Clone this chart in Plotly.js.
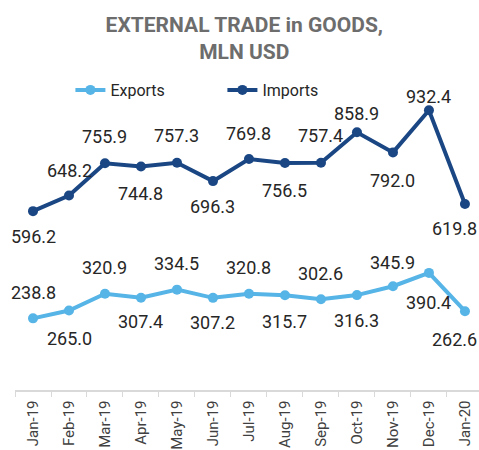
<!DOCTYPE html>
<html>
<head>
<meta charset="utf-8">
<script src="https://cdn.plot.ly/plotly-3.0.1.min.js"></script>
<style>
  body { margin: 0; background: #fff; }
  #chart { width: 479px; height: 450px; }
</style>
</head>
<body>
<div id="chart"></div>
<script>
// External trade in goods, mln USD
const months = ['Jan-19', 'Feb-19', 'Mar-19', 'Apr-19', 'May-19', 'Jun-19', 'Jul-19',
                'Aug-19', 'Sep-19', 'Oct-19', 'Nov-19', 'Dec-19', 'Jan-20'];
const exportsVals = [238.8, 265.0, 320.9, 307.4, 334.5, 307.2, 320.8, 315.7, 302.6, 316.3, 345.9, 390.4, 262.6];
const importsVals = [596.2, 648.2, 755.9, 744.8, 757.3, 696.3, 769.8, 756.5, 757.4, 858.9, 792.0, 932.4, 619.8];

// label offsets in px (positive = above the point), as placed in the original
const exportsShift = [26, -28, 26, -24, 26, -25, 26, -26, 26, -25, 24, -30, -28];
const importsShift = [-25, 25, 27, -27, 27, -25, 26, -27, 27, 19, -28, 14, -24];

const EXP_COLOR = '#56b4e6';
const IMP_COLOR = '#1a4784';
const FONT = 'Roboto, Arial, sans-serif';

function lineTrace(name, vals, color) {
    return {
        x: months,
        y: vals,
        name: name,
        type: 'scatter',
        mode: 'lines+markers',
        line: { color: color, width: 4 },
        marker: { color: color, size: 10 },
        cliponaxis: false
    };
}

function labels(vals, shifts) {
    return vals.map((v, i) => ({
        x: months[i],
        y: v,
        text: v.toFixed(1),
        showarrow: false,
        yshift: shifts[i],
        xshift: i === months.length - 1 ? -10 : 0,
        font: { family: FONT, size: 18, color: '#262626' }
    }));
}

const layout = {
    width: 479,
    height: 450,
    paper_bgcolor: '#fff',
    plot_bgcolor: '#fff',
    margin: { l: 15, r: 0, t: 90, b: 60, autoexpand: false },
    font: { family: FONT, color: '#262626' },
    title: {
        text: '<b>EXTERNAL TRADE in GOODS,<br>MLN USD</b>',
        font: { family: FONT, size: 21, color: '#6d6d6d' },
        x: 0.51,
        xanchor: 'center',
        y: 0.93,
        yanchor: 'middle'
    },
    showlegend: true,
    legend: {
        orientation: 'h',
        xref: 'container',
        yref: 'container',
        x: 0.147,
        xanchor: 'left',
        y: 0.8,
        yanchor: 'middle',
        entrywidth: 107,
        entrywidthmode: 'pixels',
        font: { family: FONT, size: 16, color: '#262626' },
        bgcolor: 'rgba(0,0,0,0)'
    },
    xaxis: {
        type: 'category',
        range: [-0.5, 12.39],
        showline: true,
        linecolor: '#d9d9d9',
        linewidth: 1.5,
        ticks: 'outside',
        tickson: 'boundaries',
        ticklen: 5,
        tickcolor: '#d9d9d9',
        tickangle: -90,
        ticklabelstandoff: 3,
        tickfont: { family: FONT, size: 15, color: '#404040' },
        showgrid: false,
        zeroline: false,
        fixedrange: true
    },
    yaxis: {
        range: [0, 1000],
        showticklabels: false,
        showgrid: false,
        zeroline: false,
        showline: false,
        fixedrange: true
    },
    annotations: labels(exportsVals, exportsShift).concat(labels(importsVals, importsShift))
};

Plotly.newPlot('chart', [
    lineTrace('Exports', exportsVals, EXP_COLOR),
    lineTrace('Imports', importsVals, IMP_COLOR)
], layout, { displayModeBar: false, staticPlot: true });
</script>
</body>
</html>
